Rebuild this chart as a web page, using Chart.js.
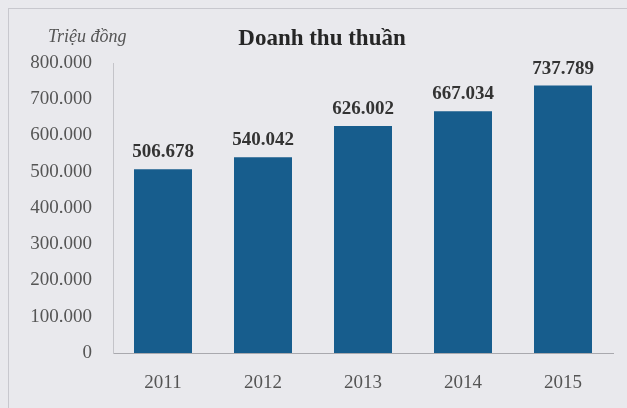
<!DOCTYPE html>
<html>
<head>
<meta charset="utf-8">
<script src="https://cdn.jsdelivr.net/npm/chart.js@4/dist/chart.umd.min.js"></script>
<style>
  html, body { margin: 0; padding: 0; background: #e9e9ed; }
  #wrap { position: relative; width: 627px; height: 408px; overflow: hidden; }
  #frame { position: absolute; left: 8px; top: 8px; width: 640px; height: 420px;
           border-left: 1px solid #c8c8ce; border-top: 1px solid #c8c8ce; box-sizing: border-box; }
  canvas { position: absolute; left: 0; top: 0; }
</style>
</head>
<body>
<div id="wrap">
  <div id="frame"></div>
  <canvas id="c" width="627" height="408"></canvas>
</div>
<script>
const years = ["2011", "2012", "2013", "2014", "2015"];
const revenue = [506678, 540042, 626002, 667034, 737789];
const chartTitle = "Doanh thu thuần";
const unitLabel = "Triệu đồng";
const yMin = 0, yMax = 800000, yStep = 100000;

function fmt(v) {
  return String(Math.round(v)).replace(/\B(?=(\d{3})+(?!\d))/g, ".");
}

const textPlugin = {
  id: 'texts',
  afterDatasetsDraw(chart) {
    const ctx = chart.ctx;
    ctx.save();
    // data labels
    const meta = chart.getDatasetMeta(0);
    ctx.font = "bold 19px 'Liberation Serif', 'Times New Roman', serif";
    ctx.fillStyle = "#333333";
    ctx.textAlign = "center";
    ctx.textBaseline = "alphabetic";
    meta.data.forEach((bar, i) => {
      ctx.fillText(fmt(revenue[i]), bar.x, bar.y - 12);
    });
    // title
    ctx.font = "bold 23px 'Liberation Serif', 'Times New Roman', serif";
    ctx.fillStyle = "#262626";
    ctx.fillText(chartTitle, 322, 45);
    // unit
    ctx.font = "italic 18px 'Liberation Serif', 'Times New Roman', serif";
    ctx.fillStyle = "#555555";
    ctx.textAlign = "left";
    ctx.fillText(unitLabel, 48, 42);
    ctx.restore();
  }
};

new Chart(document.getElementById('c'), {
  type: 'bar',
  data: {
    labels: years,
    datasets: [{
      data: revenue,
      backgroundColor: '#175d8d',
      borderWidth: 0,
      barPercentage: 0.58,
      categoryPercentage: 1.0
    }]
  },
  options: {
    responsive: false,
    animation: false,
    devicePixelRatio: 1,
    layout: { padding: { left: 0, right: 14, top: 63, bottom: 0 } },
    plugins: { legend: { display: false }, tooltip: { enabled: false }, title: { display: false } },
    scales: {
      x: {
        grid: { display: false, drawTicks: false },
        border: { display: true, color: '#a9a9ae', width: 1 },
        ticks: { color: '#555555', padding: 19,
                 font: { family: "'Liberation Serif', 'Times New Roman', serif", size: 19 } },
        afterFit(scale) { scale.height = 55; }
      },
      y: {
        min: yMin, max: yMax,
        grid: { display: false, drawTicks: false },
        border: { display: true, color: '#c4c4c9', width: 1 },
        ticks: { stepSize: yStep, color: '#555555', padding: 21,
                 font: { family: "'Liberation Serif', 'Times New Roman', serif", size: 19 },
                 callback: (v) => fmt(v) },
        afterFit(scale) { scale.width = 113; }
      }
    }
  },
  plugins: [textPlugin]
});
</script>
</body>
</html>
